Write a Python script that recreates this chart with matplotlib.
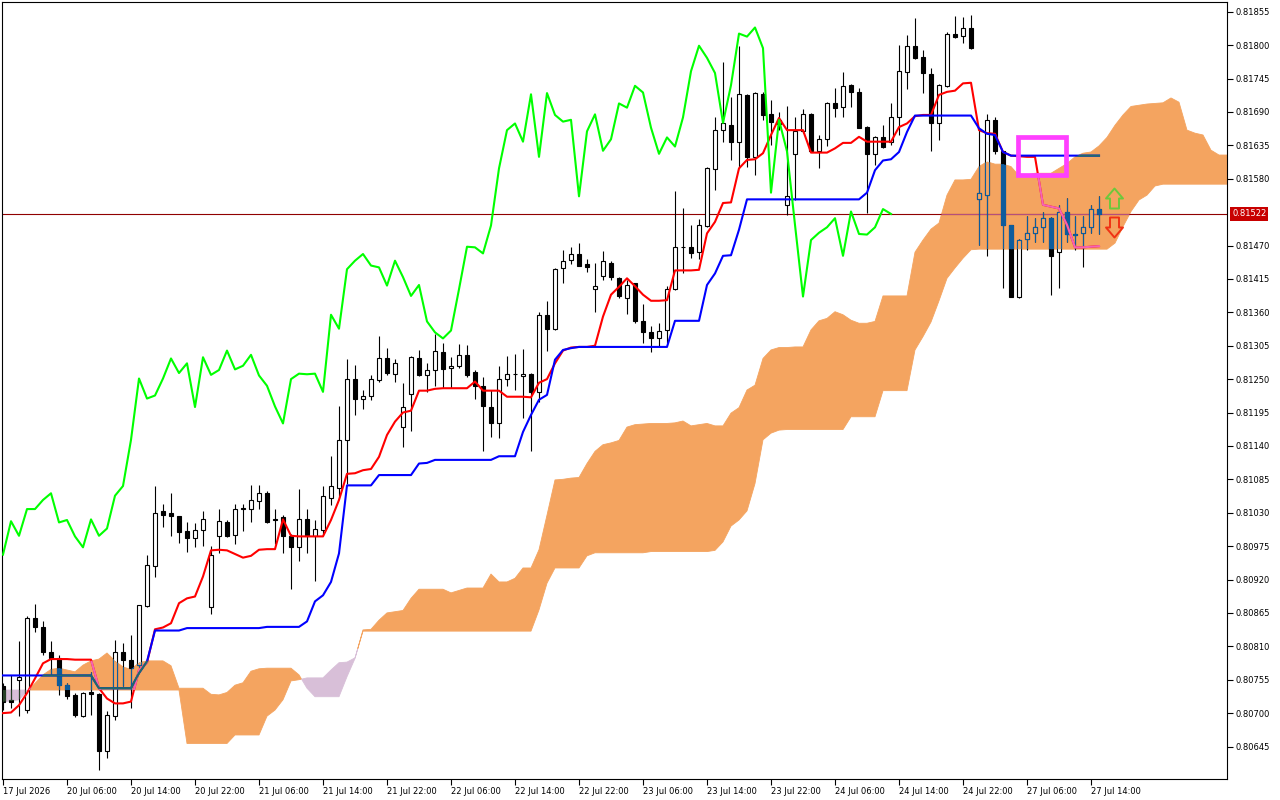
import numpy as np
import matplotlib
matplotlib.use('Agg')
import matplotlib.pyplot as plt
from matplotlib.patches import PathPatch, Rectangle
from matplotlib.path import Path

# hourly candles (bar 0 = 17 Jul 2026 22:00)
opens = [
    .80744, .80722, .80754, .80705, .80856, .80842, .80800, .80790, .80746, .80730,
    .80696, .80735, .80731, .80638, .80696, .80800, .80787, .80780, .80877, .80943,
    .81033, .81029, .81025, .81000, .80989, .81001, .80874, .80991, .81015, .80994,
    .81038, .81036, .81050, .81063, .81019, .81023, .80991, .80973, .81019, .80992,
    .81002, .81055, .81070, .81149, .81251, .81218, .81223, .81249, .81284, .81259,
    .81171, .81226, .81284, .81257, .81265, .81295, .81268, .81272, .81290, .81261,
    .81239, .81204, .81177, .81251, .81259, .81255, .81259, .81228, .81356, .81332,
    .81433, .81446, .81456, .81439, .81398, .81419, .81442, .81416, .81383, .81408,
    .81346, .81327, .81317, .81331, .81398, .81468, .81467, .81459, .81502, .81596,
    .81660, .81669, .81641, .81718, .81615, .81720, .81686, .81670, .81537, .81620,
    .81659, .81686, .81625, .81645, .81704, .81698, .81734, .81722, .81665, .81621,
    .81648, .81641, .81682, .81755, .81799, .81780, .81752, .81671, .81732, .81819,
    .81815, .81829, .81546, .81554, .81677, .81625, .81504, .81386, .81480, .81490,
    .81500, .81515, .81459, .81526, .81489, .81490, .81500, .81530]
highs = [
    .80750, .80763, .80818, .80860, .80879, .80851, .80818, .80796, .80749, .80733,
    .80735, .80768, .80733, .80704, .80821, .80815, .80829, .80878, .80960, .81074,
    .81045, .81063, .81025, .81015, .81013, .81032, .80975, .81036, .81018, .81045,
    .81045, .81076, .81076, .81065, .81036, .81026, .80995, .81069, .81036, .81018,
    .81074, .81124, .81206, .81283, .81273, .81232, .81257, .81321, .81302, .81283,
    .81243, .81288, .81298, .81277, .81324, .81310, .81286, .81308, .81306, .81265,
    .81254, .81232, .81271, .81288, .81291, .81299, .81260, .81360, .81378, .81433,
    .81463, .81467, .81474, .81447, .81441, .81461, .81444, .81418, .81413, .81409,
    .81373, .81338, .81342, .81403, .81560, .81531, .81504, .81513, .81600, .81681,
    .81772, .81714, .81798, .81720, .81722, .81722, .81710, .81690, .81699, .81681,
    .81694, .81688, .81652, .81706, .81729, .81755, .81736, .81729, .81666, .81650,
    .81668, .81704, .81800, .81817, .81844, .81792, .81762, .81736, .81822, .81848,
    .81847, .81850, .81660, .81687, .81681, .81625, .81504, .81480, .81519, .81515,
    .81526, .81517, .81537, .81549, .81518, .81519, .81537, .81552]
lows = [
    .80705, .80708, .80695, .80700, .80834, .80796, .80765, .80730, .80723, .80694,
    .80693, .80697, .80606, .80626, .80688, .80744, .80708, .80776, .80875, .80924,
    .81007, .80991, .80980, .80966, .80973, .80975, .80863, .80963, .80990, .80978,
    .81000, .81014, .81036, .81013, .80978, .80963, .80904, .80951, .80963, .80917,
    .80993, .81043, .81057, .81078, .81191, .81200, .81215, .81246, .81257, .81246,
    .81139, .81164, .81255, .81228, .81238, .81235, .81235, .81268, .81253, .81218,
    .81131, .81154, .81153, .81238, .81232, .81186, .81131, .81213, .81297, .81331,
    .81408, .81439, .81437, .81426, .81360, .81414, .81414, .81383, .81358, .81342,
    .81309, .81294, .81305, .81310, .81397, .81424, .81449, .81448, .81501, .81562,
    .81641, .81611, .81597, .81600, .81586, .81677, .81636, .81660, .81521, .81545,
    .81655, .81625, .81597, .81634, .81682, .81682, .81698, .81663, .81523, .81603,
    .81630, .81636, .81652, .81727, .81777, .81721, .81626, .81644, .81731, .81811,
    .81803, .81793, .81471, .81452, .81620, .81400, .81385, .81383, .81463, .81476,
    .81476, .81389, .81400, .81476, .81463, .81435, .81490, .81489]
closes = [
    .80719, .80718, .80760, .80856, .80842, .80800, .80790, .80746, .80728, .80697,
    .80733, .80732, .80638, .80697, .80800, .80787, .80774, .80878, .80944, .81029,
    .81027, .81025, .80999, .80989, .81001, .81019, .80961, .81016, .80992, .81036,
    .81036, .81051, .81062, .81014, .81018, .80991, .80973, .81019, .80992, .81004,
    .81058, .81074, .81150, .81251, .81218, .81223, .81251, .81284, .81260, .81276,
    .81204, .81286, .81257, .81265, .81297, .81266, .81272, .81290, .81256, .81239,
    .81205, .81177, .81250, .81259, .81258, .81259, .81229, .81356, .81333, .81431,
    .81445, .81456, .81437, .81434, .81404, .81445, .81418, .81387, .81405, .81345,
    .81327, .81317, .81330, .81398, .81468, .81467, .81457, .81503, .81597, .81660,
    .81671, .81641, .81719, .81616, .81721, .81685, .81674, .81677, .81551, .81658,
    .81686, .81626, .81645, .81704, .81697, .81733, .81722, .81664, .81621, .81648,
    .81633, .81681, .81757, .81799, .81779, .81754, .81672, .81734, .81819, .81814,
    .81829, .81795, .81557, .81677, .81625, .81504, .81386, .81479, .81491, .81500,
    .81515, .81453, .81526, .81489, .81488, .81500, .81530, .81522]

# ichimoku lines as drawn
tenkan = [
    .80700, .80701, .80713, .80733, .80757, .80782, .80789, .80789, .80789, .80788,
    .80788, .80788, .80741, .80724, .80716, .80716, .80719, .80771, .80783, .80838,
    .80841, .80848, .80881, .80889, .80892, .80925, .80968, .80969, .80968, .80962,
    .80956, .80959, .80969, .80970, .80970, .81019, .80992, .80991, .80991, .80991,
    .80991, .81018, .81051, .81094, .81095, .81100, .81102, .81122, .81158, .81180,
    .81195, .81198, .81231, .81231, .81234, .81235, .81235, .81235, .81235, .81246,
    .81231, .81231, .81231, .81221, .81221, .81221, .81220, .81244, .81250, .81276,
    .81297, .81302, .81303, .81303, .81305, .81353, .81389, .81402, .81416, .81403,
    .81389, .81379, .81379, .81380, .81429, .81429, .81429, .81430, .81490, .81509,
    .81540, .81541, .81597, .81611, .81612, .81622, .81652, .81680, .81660, .81660,
    .81660, .81623, .81623, .81623, .81630, .81639, .81639, .81649, .81641, .81641,
    .81641, .81641, .81665, .81671, .81683, .81685, .81685, .81718, .81723, .81725,
    .81737, .81738, .81660, .81655, .81654, .81624, .81618, .81617, .81616, .81616,
    .81537, .81534, .81531, .81504, .81467, .81467, .81468, .81469]
kijun = [
    .80762, .80762, .80762, .80762, .80762, .80762, .80762, .80762, .80762, .80762,
    .80762, .80762, .80741, .80741, .80741, .80741, .80741, .80766, .80785, .80836,
    .80836, .80836, .80836, .80840, .80840, .80840, .80840, .80840, .80840, .80840,
    .80840, .80840, .80840, .80842, .80842, .80842, .80842, .80842, .80851, .80884,
    .80894, .80916, .80963, .81075, .81075, .81075, .81075, .81092, .81092, .81092,
    .81092, .81092, .81111, .81112, .81117, .81117, .81117, .81117, .81117, .81117,
    .81117, .81117, .81123, .81123, .81123, .81163, .81191, .81216, .81224, .81282,
    .81298, .81301, .81303, .81303, .81303, .81303, .81303, .81303, .81303, .81303,
    .81303, .81303, .81303, .81303, .81346, .81346, .81346, .81346, .81405, .81424,
    .81453, .81454, .81496, .81546, .81546, .81546, .81546, .81546, .81546, .81546,
    .81546, .81546, .81546, .81546, .81546, .81546, .81546, .81546, .81557, .81594,
    .81610, .81612, .81624, .81657, .81684, .81684, .81684, .81684, .81684, .81684,
    .81684, .81684, .81663, .81654, .81652, .81624, .81618, .81618, .81618, .81618,
    .81618, .81618, .81618, .81618, .81618, .81618, .81618, .81618]
span_a = [
    .80719, .80720, .80722, .80736, .80749, .80763, .80772, .80774, .80771, .80768,
    .80779, .80786, .80789, .80799, .80786, .80776, .80772, .80783, .80786, .80786,
    .80786, .80778, .80741, .80741, .80741, .80741, .80731, .80730, .80734, .80746,
    .80750, .80769, .80773, .80774, .80774, .80774, .80774, .80763, .80741, .80727,
    .80727, .80727, .80727, .80760, .80790, .80837, .80838, .80853, .80865, .80867,
    .80869, .80889, .80904, .80904, .80904, .80904, .80898, .80902, .80906, .80906,
    .80906, .80929, .80916, .80916, .80922, .80939, .80939, .80969, .81026, .81084,
    .81085, .81087, .81088, .81111, .81131, .81142, .81145, .81149, .81171, .81175,
    .81176, .81177, .81177, .81177, .81178, .81181, .81173, .81175, .81177, .81173,
    .81173, .81194, .81203, .81232, .81240, .81284, .81298, .81302, .81302, .81303,
    .81303, .81331, .81346, .81350, .81361, .81356, .81347, .81342, .81342, .81345,
    .81387, .81387, .81387, .81387, .81459, .81479, .81497, .81507, .81553, .81578,
    .81578, .81579, .81600, .81608, .81604, .81604, .81600, .81585, .81586, .81589,
    .81589, .81589, .81597, .81605, .81616, .81622, .81624, .81634, .81648, .81668,
    .81685, .81699, .81701, .81703, .81704, .81705, .81713, .81706, .81660, .81655,
    .81652, .81627, .81619, .81619]
span_b = [
    .80738, .80738, .80738, .80738, .80738, .80738, .80738, .80738, .80738, .80738,
    .80738, .80738, .80738, .80738, .80738, .80738, .80738, .80738, .80738, .80738,
    .80738, .80738, .80738, .80650, .80650, .80650, .80650, .80650, .80650, .80664,
    .80664, .80664, .80664, .80695, .80705, .80722, .80753, .80755, .80758, .80758,
    .80758, .80771, .80783, .80784, .80791, .80835, .80835, .80835, .80835, .80835,
    .80835, .80835, .80835, .80835, .80835, .80835, .80835, .80835, .80835, .80835,
    .80835, .80835, .80835, .80835, .80835, .80835, .80835, .80870, .80914, .80939,
    .80939, .80939, .80939, .80959, .80964, .80964, .80964, .80964, .80964, .80964,
    .80964, .80966, .80966, .80966, .80966, .80966, .80966, .80966, .80966, .80968,
    .80982, .81008, .81018, .81033, .81078, .81150, .81161, .81166, .81167, .81167,
    .81167, .81167, .81167, .81167, .81167, .81167, .81188, .81188, .81188, .81188,
    .81231, .81231, .81231, .81231, .81298, .81320, .81344, .81379, .81416, .81433,
    .81449, .81463, .81464, .81464, .81464, .81464, .81464, .81464, .81464, .81464,
    .81464, .81464, .81464, .81464, .81464, .81464, .81464, .81464, .81464, .81474,
    .81501, .81526, .81545, .81553, .81568, .81571, .81571, .81571, .81571, .81571,
    .81571, .81571, .81571, .81571]

time_labels = ['17 Jul 2026', '20 Jul 06:00', '20 Jul 14:00', '20 Jul 22:00', '21 Jul 06:00',
               '21 Jul 14:00', '21 Jul 22:00', '22 Jul 06:00', '22 Jul 14:00', '22 Jul 22:00',
               '23 Jul 06:00', '23 Jul 14:00', '23 Jul 22:00', '24 Jul 06:00', '24 Jul 14:00',
               '24 Jul 22:00', '27 Jul 06:00', '27 Jul 14:00']
time_ticks = [0, 8, 16, 24, 32, 40, 48, 56, 64, 72, 80, 88, 96, 104, 112, 120, 128, 136]
price_ticks = [0.80645, 0.80700, 0.80755, 0.80810, 0.80865, 0.80920, 0.80975, 0.81030,
               0.81085, 0.81140, 0.81195, 0.81250, 0.81305, 0.81360, 0.81415, 0.81470,
               0.81580, 0.81635, 0.81690, 0.81745, 0.81800, 0.81855]
bid = 0.81522
chikou_shift = 26

# objects placed on the chart
box_bars = [126.875, 132.875]
box_prices = [0.815861, 0.816479]
signal_bar = 138.9
signal_up = 0.81549
signal_down = 0.81501

x = np.arange(len(closes))
xc = np.arange(len(span_a))
A = np.array(span_a)
B = np.array(span_b)

fig = plt.figure(figsize=(12.8, 8), dpi=100)
ax = fig.add_axes([2 / 1280, 21 / 800, 1225 / 1280, 777 / 800])
ax.set_xlim(-0.125, 153)
ax.set_ylim(0.805915, 0.818710)

cloud_up = ax.fill_between(xc, A, B, where=A >= B, interpolate=True,
                           fc='#F4A460', ec='#F4A460', lw=0.6, zorder=1)
cloud_dn = ax.fill_between(xc, A, B, where=A < B, interpolate=True,
                           fc='#D8BFD8', ec='#D8BFD8', lw=0.6, zorder=1)


def clip_of(coll):
    return PathPatch(Path.make_compound_path(*coll.get_paths()), transform=ax.transData)


clip_up = clip_of(cloud_up)
clip_dn = clip_of(cloud_dn)


def draw_candles(wick_col, bull_col, bear_col, edge_col, z, clip=None):
    o = np.array(opens)
    c = np.array(closes)
    lo = np.minimum(o, c)
    hgt = np.maximum(np.abs(c - o), 0.000006)
    wk = ax.vlines(x, lows, highs, colors=wick_col, lw=0.8, zorder=z)
    fills = [bull_col if cc > oo else bear_col for oo, cc in zip(o, c)]
    bars = ax.bar(x, hgt, bottom=lo, width=0.6, color=fills, edgecolor=edge_col,
                  lw=0.8, zorder=z + 0.1)
    if clip is not None:
        wk.set_clip_path(clip)
        for p in bars:
            p.set_clip_path(clip)


# bid line
ax.axhline(bid, color='#900000', lw=0.8, zorder=2)
bl = ax.axhline(bid, color='#B4507C', lw=0.8, zorder=2.5)
bl.set_clip_path(clip_up)

draw_candles('black', 'white', 'black', 'black', 3)
draw_candles('#0E5C9C', '#F4A460', '#0E5C9C', '#0E5C9C', 4, clip_up)
draw_candles('#274027', '#D8BFD8', '#274027', '#274027', 4, clip_dn)

ax.plot(x, tenkan, color='#FF0000', lw=1.5, zorder=5)
ax.plot(x, kijun, color='#0000FF', lw=1.5, zorder=5)
ax.plot(x[:len(closes) - chikou_shift], closes[chikou_shift:], color='#00FF00', lw=1.5, zorder=5)
t2, = ax.plot(x, tenkan, color='#F464B4', lw=1.5, zorder=6)
k2, = ax.plot(x, kijun, color='#1F6B6B', lw=1.5, zorder=6)
t2.set_clip_path(clip_up)
k2.set_clip_path(clip_up)

ax.add_patch(Rectangle((box_bars[0], box_prices[0]), box_bars[1] - box_bars[0],
                       box_prices[1] - box_prices[0], fill=False, ec='#FF40FF',
                       lw=3.4, joinstyle='miter', zorder=9))

up_path = Path([(0, 1), (0.85, 0), (0.45, 0), (0.45, -1), (-0.45, -1), (-0.45, 0), (-0.85, 0), (0, 1)],
               [1, 2, 2, 2, 2, 2, 2, 79])
dn_path = Path([(0, -1), (0.85, 0), (0.45, 0), (0.45, 1), (-0.45, 1), (-0.45, 0), (-0.85, 0), (0, -1)],
               [1, 2, 2, 2, 2, 2, 2, 79])
ax.plot([signal_bar], [signal_up], marker=up_path, ms=14.4, mfc='none', mec='#6CC83C',
        mew=1.4, ls='none', zorder=9)
ax.plot([signal_bar], [signal_down], marker=dn_path, ms=14.4, mfc='none', mec='#F03214',
        mew=1.4, ls='none', zorder=9)

# axes
for s in ax.spines.values():
    s.set_color('black')
    s.set_linewidth(0.8)
ax.yaxis.tick_right()
ax.set_yticks(price_ticks)
ax.set_yticklabels([f'{v:.5f}' for v in price_ticks])
ax.set_xticks(time_ticks)
ax.set_xticklabels(time_labels)
for lab in ax.get_xticklabels():
    lab.set_horizontalalignment('left')
ax.tick_params(axis='both', direction='out', length=4, width=0.8, labelsize=6,
               colors='black', pad=1.5)
ax.tick_params(axis='y', pad=2)

ax.text(1.0041, bid, f'{bid:.5f}', transform=ax.get_yaxis_transform(), ha='left', va='center',
        fontsize=6, color='white', clip_on=False,
        bbox=dict(boxstyle='square,pad=0.25', fc='#C80000', ec='none'))

fig.savefig('out.png', dpi=100, facecolor='white')
